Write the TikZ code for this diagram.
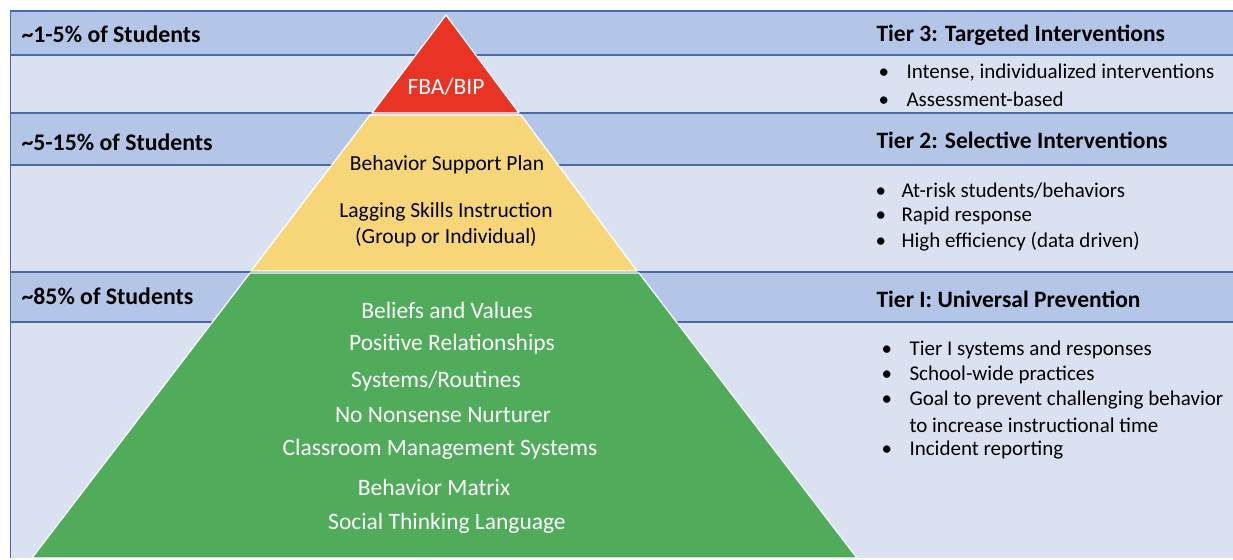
\documentclass[tikz,border=0pt]{standalone}
\usepackage{fontspec}
\setmainfont{Carlito}
\definecolor{bandhead}{HTML}{B4C6E7}
\definecolor{bandlight}{HTML}{DAE2F2}
\definecolor{bandline}{HTML}{4A6AA6}
\definecolor{tierred}{HTML}{E93425}
\definecolor{tieryellow}{HTML}{F7D67A}
\definecolor{tiergreen}{HTML}{50AC5B}
\newcommand{\bul}{\makebox[28pt][l]{\textbullet}}

\begin{document}
\begin{tikzpicture}[x=1pt,y=-1pt,
    share/.style={anchor=west,font=\fontsize{23.8}{27}\selectfont\bfseries},
    tier/.style={anchor=west,font=\fontsize{23.5}{27}\selectfont\bfseries},
    item/.style={anchor=west,font=\fontsize{21}{25}\selectfont},
    inside/.style={font=\fontsize{21.5}{25}\selectfont},
    base/.style={font=\fontsize{23.5}{27}\selectfont,text=white},
    layer/.style={draw=white,line width=1.2pt,line join=round}]
	\useasboundingbox (0,0) rectangle (1233,559);
	\fill[white] (0,0) rectangle (1233,559);

	\fill[bandhead] (10,11) rectangle (1233,55);
	\fill[bandlight] (10,55) rectangle (1233,113);
	\fill[bandhead] (10,113) rectangle (1233,165);
	\fill[bandlight] (10,165) rectangle (1233,272);
	\fill[bandhead] (10,272) rectangle (1233,322);
	\fill[bandlight] (10,322) rectangle (1233,558);
	\foreach \y in {11,55,113,165,272,322}
		\draw[bandline,line width=1.3pt] (10,\y) -- (1233,\y);
	\draw[bandline,line width=1pt] (10.5,11) -- (10.5,558);

	\draw[layer,fill=tierred] (446,15) -- (519,113) -- (372,113) -- cycle;
	\draw[layer,fill=tieryellow] (370,115) -- (521,115) -- (637,271) -- (251,271) -- cycle;
	\draw[layer,fill=tiergreen] (250,273) -- (639,273) -- (857,558) -- (32,558) -- cycle;

	\node[share] (s3) at (18,34) {\textasciitilde1-5\% of Students};
	\node[share] (s2) at (18,142) {\textasciitilde5-15\% of Students};
	\node[share] (s1) at (18,296) {\textasciitilde85\% of Students};

	\node[base] (fba) at (446,87) {FBA/BIP};
	\node[inside] (bsp) at (447,165) {Behavior Support Plan};
	\node[inside] (lag) at (446,212) {Lagging Skills Instruction};
	\node[inside] (grp) at (446,237) {(Group or Individual)};

	\foreach \x/\y/\t [count=\i] in {447/310/{Beliefs and Values},452/344/{Positive Relationships},
		436/381/{Systems/Routines},443/415/{No Nonsense Nurturer},440/449/{Classroom Management Systems},
		434/487/{Behavior Matrix},447/523/{Social Thinking Language}}
		\node[base] (g\i) at (\x,\y) {\t};

	\node[tier] (t3) at (873,35) {Tier 3: Targeted Interventions};
	\node[tier] (t2) at (873,140) {Tier 2: Selective Interventions};
	\node[tier] (t1) at (873,299) {Tier I: Universal Prevention};

	\node[item] (t3a) at (875,73) {\bul Intense, individualized interventions};
	\node[item] (t3b) at (875,99) {\bul Assessment-based};

	\node[item] (t2a) at (872,191) {\makebox[26pt][l]{\textbullet}At-risk students/behaviors};
	\node[item] (t2b) at (872,216) {\makebox[26pt][l]{\textbullet}Rapid response};
	\node[item] (t2c) at (872,242) {\makebox[26pt][l]{\textbullet}High efficiency (data driven)};

	\node[item] (t1a) at (878,350) {\bul Tier I systems and responses};
	\node[item] (t1b) at (878,375) {\bul School-wide practices};
	\node[item] (t1c) at (878,400) {\bul Goal to prevent challenging behavior};
	\node[item] (t1d) at (878,425) {\makebox[28pt]{}to increase instructional time};
	\node[item] (t1e) at (878,450) {\bul Incident reporting};
\end{tikzpicture}
\end{document}
